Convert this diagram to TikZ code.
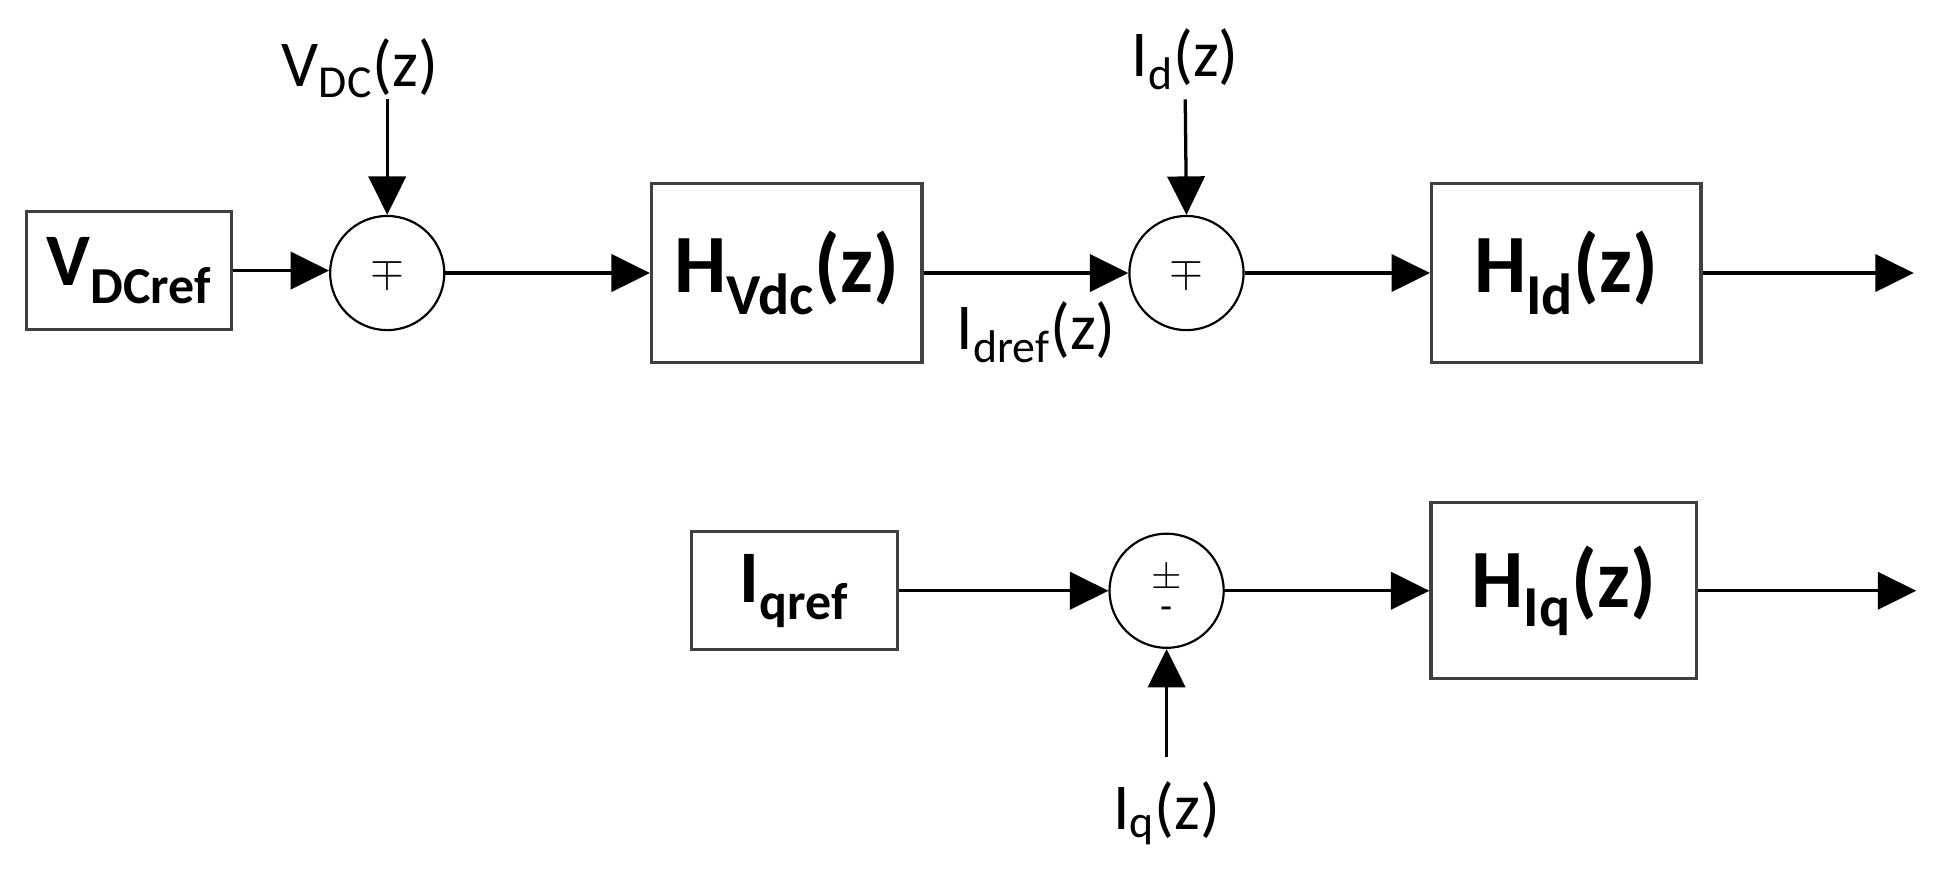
\documentclass[tikz,border=0pt]{standalone}
\usepackage{fontspec}
\setmainfont{Carlito}
\usepackage{graphicx}
\usetikzlibrary{arrows.meta}
\begin{document}
\begin{tikzpicture}[x=0.02cm,y=-0.02cm,
  blk/.style={draw=black!75,line width=1.5pt,inner sep=0pt,font=\bfseries\fontsize{38}{40}\selectfont},
  sum/.style={draw,circle,line width=1pt,minimum size=1.84cm,inner sep=0pt},
  sgn/.style={inner sep=0pt},
  lbl/.style={font=\fontsize{30}{32}\selectfont,inner sep=0pt},
  arr/.style={-{Triangle[length=0.62cm,width=0.6cm]},line width=1.5pt}]
\useasboundingbox (0,0) rectangle (1568,703);
\node[blk,minimum width=3.3cm,minimum height=1.9cm] (ref) at (104,218) {\fontsize{34}{36}\selectfont V\textsubscript{DCref}};
\node[sum] (s1) at (312,220) {\scalebox{2}{$\mp$}};
\node[lbl] (vdc) at (290,55) {V\textsubscript{DC}(z)};
\node[blk,minimum width=4.36cm,minimum height=2.88cm] (hv) at (634,220) {H\textsubscript{Vdc}(z)};
\node[sum] (s2) at (956,220) {\scalebox{2}{$\mp$}};
\node[lbl] (id) at (955,48) {I\textsubscript{d}(z)};
\node[lbl] (idref) at (835,268) {I\textsubscript{dref}(z)};
\node[blk,minimum width=4.34cm,minimum height=2.88cm] (hd) at (1262,220) {H\textsubscript{Id}(z)};
\coordinate (o1) at (1542,220);
\node[blk,minimum width=3.32cm,minimum height=1.9cm] (iq) at (640,476) {\fontsize{34}{36}\selectfont I\textsubscript{qref}};
\node[sum] (s3) at (940,476) {};
\node[sgn] (pm) at (940,466) {\scalebox{1.8}{$\pm$}};
\node[sgn] (mn) at (940,494) {\scalebox{1.8}{-}};
\node[lbl] (iqz) at (940,655) {I\textsubscript{q}(z)};
\node[blk,minimum width=4.28cm,minimum height=2.84cm] (hq) at (1260,476) {H\textsubscript{Iq}(z)};
\coordinate (o2) at (1544,476);
\coordinate (vt) at (312,80);
\coordinate (it) at (955,80);
\coordinate (qb) at (940,610);
\draw[arr] (ref.east) -- (ref.east -| s1.west);
\draw[arr] (vt) -- (s1.north);
\draw[arr] (s1.east) -- (hv.west);
\draw[arr] (hv.east) -- (s2.west);
\draw[arr] (it) -- (s2.north);
\draw[arr] (s2.east) -- (hd.west);
\draw[arr] (hd.east) -- (o1);
\draw[arr] (iq.east) -- (s3.west);
\draw[arr] (qb) -- (s3.south);
\draw[arr] (s3.east) -- (hq.west);
\draw[arr] (hq.east) -- (o2);
\end{tikzpicture}
\end{document}
